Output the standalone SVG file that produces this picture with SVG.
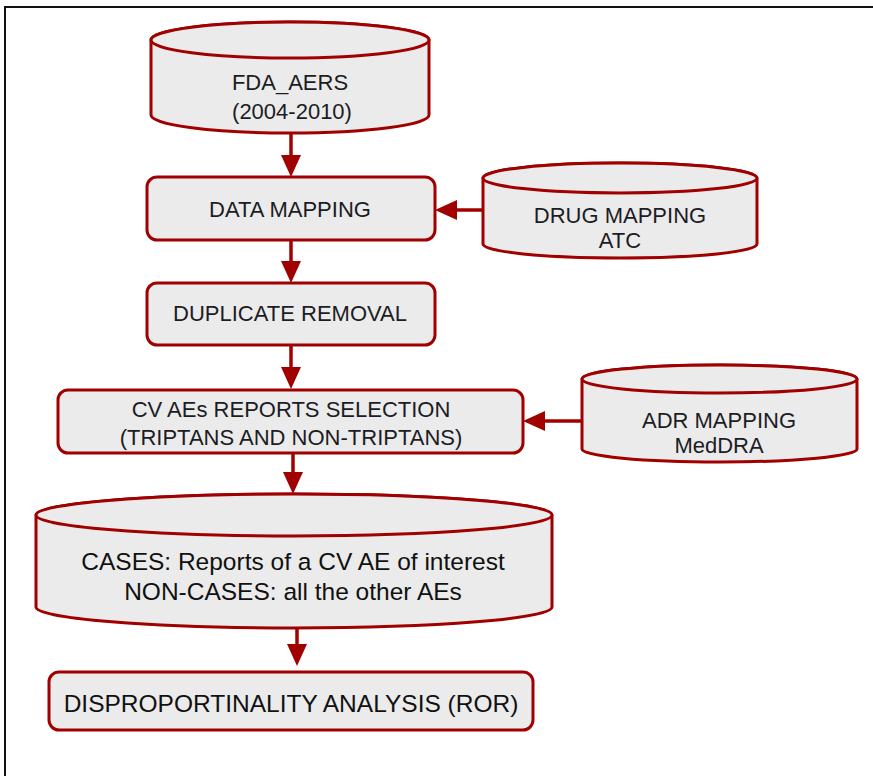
<svg xmlns="http://www.w3.org/2000/svg" width="873" height="776" viewBox="0 0 873 776">
<defs>
<style>
.shape{fill:#ebebeb;stroke:#a00000;stroke-width:3}
.conn{stroke:#a00000;stroke-width:3.5;fill:none}
text{font-family:"Liberation Sans",Arial,sans-serif;font-size:22px;fill:#1c1c24;text-anchor:middle;dominant-baseline:central}
.big{font-size:24.5px;fill:#111}
</style>
<marker id="ah" markerUnits="userSpaceOnUse" markerWidth="22" markerHeight="20" viewBox="0 0 22 20" refX="16" refY="10" orient="auto">
<path d="M0,0 L22,10 L0,20 Z" fill="#a00000"/>
</marker>
</defs>
<rect x="0" y="0" width="873" height="776" fill="#fff"/>
<path d="M5,790 V7 H880" fill="none" stroke="#111" stroke-width="2"/>

<g id="fda_aers">
<path class="shape" d="M151,40 A139,18 0 0 1 429,40 V115 A139,18 0 0 1 151,115 Z"/>
<ellipse class="shape" cx="290" cy="40" rx="139" ry="18"/>
<text x="290" y="82">FDA_AERS</text>
<text x="292" y="111">(2004-2010)</text>
</g>

<g id="data_mapping">
<rect class="shape" x="147" y="177" width="288" height="63" rx="10"/>
<text x="290" y="209">DATA MAPPING</text>
</g>

<g id="drug_mapping">
<path class="shape" d="M483,178 A137,15 0 0 1 757,178 V244 A137,14 0 0 1 483,244 Z"/>
<ellipse class="shape" cx="620" cy="178" rx="137" ry="15"/>
<text x="620" y="215">DRUG MAPPING</text>
<text x="620" y="240">ATC</text>
</g>

<g id="duplicate_removal">
<rect class="shape" x="147" y="283" width="288" height="62" rx="10"/>
<text x="290" y="313">DUPLICATE REMOVAL</text>
</g>

<g id="cv_selection">
<rect class="shape" x="58" y="390" width="465" height="63" rx="10"/>
<text x="291" y="409">CV AEs REPORTS SELECTION</text>
<text x="291" y="437">(TRIPTANS AND NON-TRIPTANS)</text>
</g>

<g id="adr_mapping">
<path class="shape" d="M582,379 A137.5,14 0 0 1 857,379 V449 A137.5,13 0 0 1 582,449 Z"/>
<ellipse class="shape" cx="719.5" cy="379" rx="137.5" ry="14"/>
<text x="719" y="420">ADR MAPPING</text>
<text x="719" y="445">MedDRA</text>
</g>

<g id="cases">
<path class="shape" d="M36,515 A258,21 0 0 1 552,515 V607 A258,21 0 0 1 36,607 Z"/>
<ellipse class="shape" cx="294" cy="515" rx="258" ry="21"/>
<text class="big" x="293" y="561">CASES: Reports of a CV AE of interest</text>
<text class="big" x="293" y="591">NON-CASES: all the other AEs</text>
</g>

<g id="disproportionality">
<rect class="shape" x="49" y="672" width="484" height="58" rx="10"/>
<text class="big" x="291" y="703">DISPROPORTINALITY ANALYSIS (ROR)</text>
</g>

<g id="connectors">
<line class="conn" x1="291" y1="133" x2="291" y2="171" marker-end="url(#ah)"/>
<line class="conn" x1="483" y1="210" x2="441" y2="210" marker-end="url(#ah)"/>
<line class="conn" x1="291" y1="240" x2="291" y2="277" marker-end="url(#ah)"/>
<line class="conn" x1="291" y1="345" x2="291" y2="383" marker-end="url(#ah)"/>
<line class="conn" x1="582" y1="421" x2="529" y2="421" marker-end="url(#ah)"/>
<line class="conn" x1="293" y1="453" x2="293" y2="488" marker-end="url(#ah)"/>
<line class="conn" x1="297" y1="628" x2="297" y2="660" marker-end="url(#ah)"/>
</g>
</svg>
